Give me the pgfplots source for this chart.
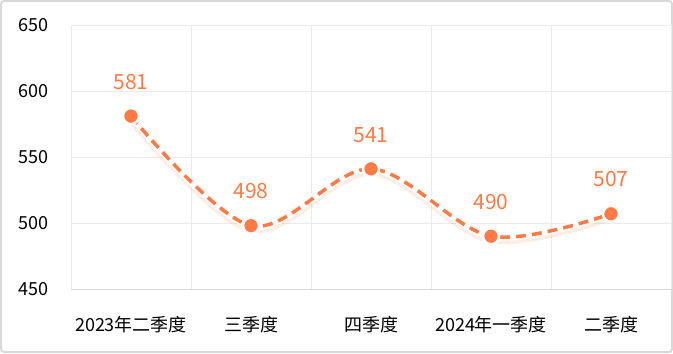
\documentclass[border=0pt]{standalone}
\usepackage{pgfplots}
\pgfplotsset{compat=1.18}
\usepackage{fontspec}
\setmainfont{Noto Sans CJK SC}
\definecolor{lc}{HTML}{FF7A45}
\definecolor{gridc}{HTML}{EBEBEB}
\definecolor{framec}{HTML}{D9D9D9}
\begin{document}
\begin{tikzpicture}[x=1bp,y=1bp]
\draw[line width=2bp, framec, rounded corners=3bp] (1,1) rectangle (672,352);
\begin{axis}[
  at={(71bp,64bp)}, anchor=south west,
  scale only axis, width=600bp, height=264bp,
  xmin=-0.5, xmax=4.5, ymin=450, ymax=650,
  ytick={450,500,...,650},
  xtick={0,1,2,3,4},
  xticklabels={2023年二季度,三季度,四季度,2024年一季度,二季度},
  minor xtick={-0.5,0.5,1.5,2.5,3.5,4.5},
  xminorgrids=true, ymajorgrids=true,
  grid style={gridc, line width=0.8bp},
  minor grid style={gridc, line width=0.8bp},
  axis line style={draw=none},
  major tick length=0pt, minor tick length=0pt,
  tick style={draw=none},
  /pgf/number format/assume math mode=true,
  yticklabel style={font=\fontsize{18bp}{20bp}\selectfont, black, anchor=east, xshift=-19bp},
  xticklabel style={font=\fontsize{18bp}{20bp}\selectfont, black, anchor=north, yshift=-24bp},
  clip=false,
]
\draw[framec, line width=1bp] (axis cs:-0.5,450) -- (axis cs:4.5,450);
% shadow
\addplot[smooth, tension=0.55, line width=8bp, lc, opacity=0.14, yshift=-3bp, forget plot] coordinates {(0,581) (1,498) (2,541) (3,490) (4,507)};
% halo
\addplot[smooth, tension=0.55, line width=7bp, white, forget plot] coordinates {(0,581) (1,498) (2,541) (3,490) (4,507)};
\addplot[smooth, tension=0.55, line width=3.5bp, lc, dash pattern=on 10bp off 6bp,
  mark=*, mark size=8bp, mark options={solid, fill=lc, draw=white, line width=2.5bp},
  nodes near coords, point meta=explicit symbolic,
  every node near coord/.append style={font=\fontsize{21bp}{23bp}\selectfont, lc, yshift=22bp}]
  coordinates {(0,581)[581] (1,498)[498] (2,541)[541] (3,490)[490] (4,507)[507]};
\end{axis}
\end{tikzpicture}
\end{document}
